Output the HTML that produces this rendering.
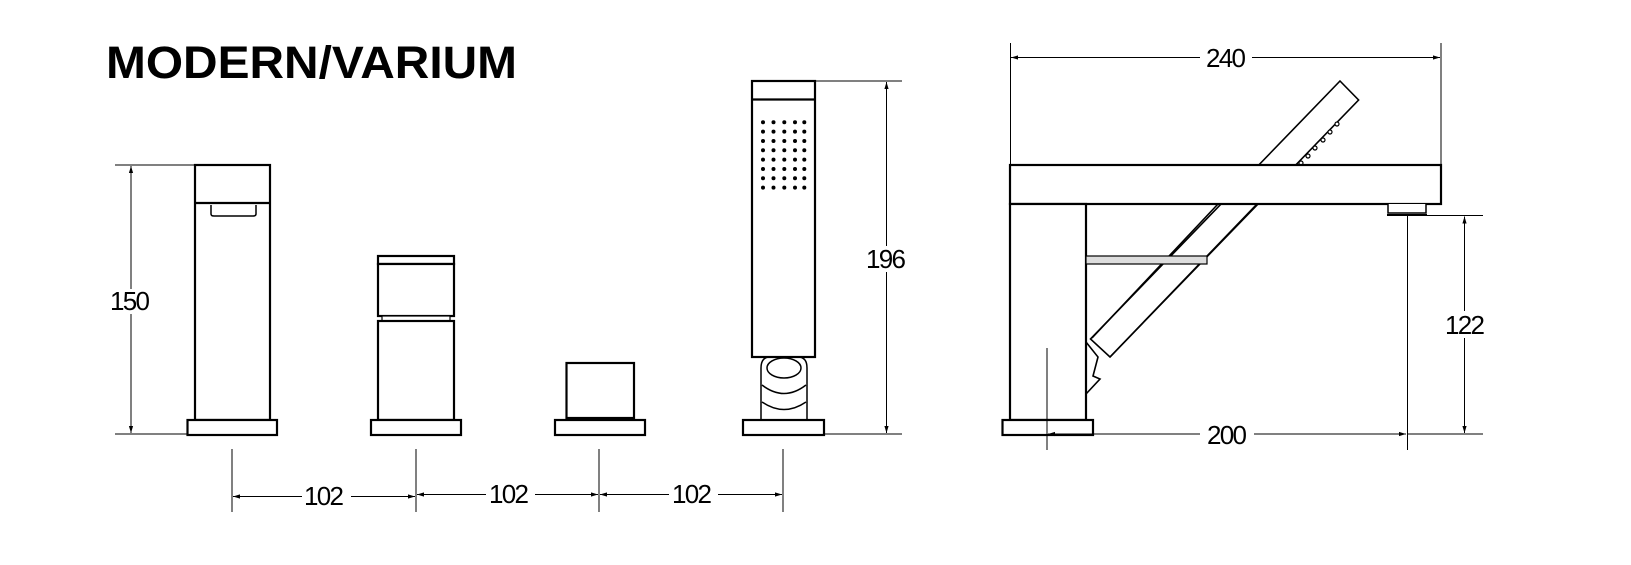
<!DOCTYPE html>
<html><head><meta charset="utf-8"><style>
html,body{margin:0;padding:0;background:#fff;}
svg{display:block;}
text{font-family:"Liberation Sans",Arial,sans-serif;fill:#000;}
</style></head><body>
<svg width="1631" height="565" viewBox="0 0 1631 565" xmlns="http://www.w3.org/2000/svg">
<defs>
<marker id="a" viewBox="0 0 10 10" refX="10" refY="5" markerWidth="7" markerHeight="7" orient="auto-start-reverse"><path d="M0,2 L10,5 L0,8 z" fill="#000"/></marker>
</defs>
<text x="106" y="78" font-size="45" font-weight="bold" textLength="411" lengthAdjust="spacingAndGlyphs">MODERN/VARIUM</text>

<g fill="#fff" stroke="#000" stroke-width="2.2">
<rect x="195" y="165" width="75" height="255"/>
<line x1="195" y1="203" x2="270" y2="203"/>
<path d="M211,205 L211,214 Q211,216 214,216 L253,216 Q256,216 256,214 L256,205" stroke-width="1.5"/>
<rect x="187.5" y="420" width="89.5" height="15"/>
<rect x="378" y="256" width="76" height="8"/>
<rect x="378" y="264" width="76" height="52"/>
<rect x="382" y="316" width="68" height="5" stroke-width="1.2"/>
<rect x="378" y="321" width="76" height="99"/>
<rect x="371" y="420" width="90" height="15"/>
<rect x="566.5" y="363" width="67.5" height="55"/>
<rect x="555" y="420" width="90" height="15"/>
<path d="M761,420 L761,368 Q761,357 770,357 L798,357 Q807,357 807,368 L807,420" stroke-width="1.5"/>
<ellipse cx="784" cy="368" rx="17" ry="10" stroke-width="1.5"/>
<path d="M762,385 Q784,402 806,385 M762,402 Q784,417 806,402" fill="none" stroke-width="1.5"/>
<rect x="752" y="81" width="63" height="276"/>
<line x1="752" y1="99.5" x2="815" y2="99.5"/>
<rect x="743" y="420" width="81" height="15"/>
</g>
<g fill="#000">
<g id="row">
<circle cx="763" cy="122.3" r="2"/><circle cx="773.5" cy="122.3" r="2"/><circle cx="784.3" cy="122.3" r="2"/><circle cx="795" cy="122.3" r="2"/><circle cx="804.3" cy="122.3" r="2"/>
</g>
<use href="#row" y="9.33"/><use href="#row" y="18.67"/><use href="#row" y="28"/><use href="#row" y="37.33"/><use href="#row" y="46.67"/><use href="#row" y="56"/><use href="#row" y="65.33"/>
</g>

<g stroke="#000" stroke-width="1" fill="none">
<line x1="115" y1="165" x2="195" y2="165"/>
<line x1="115" y1="434" x2="187" y2="434"/>
<line x1="131" y1="166" x2="131" y2="289" marker-start="url(#a)"/>
<line x1="131" y1="314" x2="131" y2="433" marker-end="url(#a)"/>
<line x1="232" y1="449" x2="232" y2="512"/>
<line x1="416" y1="449" x2="416" y2="512"/>
<line x1="599" y1="449" x2="599" y2="512"/>
<line x1="783" y1="449" x2="783" y2="512"/>
<line x1="233" y1="496.5" x2="302" y2="496.5" marker-start="url(#a)"/>
<line x1="351" y1="496.5" x2="415" y2="496.5" marker-end="url(#a)"/>
<line x1="417" y1="494.5" x2="486" y2="494.5" marker-start="url(#a)"/>
<line x1="535" y1="494.5" x2="598" y2="494.5" marker-end="url(#a)"/>
<line x1="600" y1="494.5" x2="669" y2="494.5" marker-start="url(#a)"/>
<line x1="718" y1="494.5" x2="782" y2="494.5" marker-end="url(#a)"/>
<line x1="815" y1="81" x2="902" y2="81"/>
<line x1="824" y1="434" x2="902" y2="434"/>
<line x1="886.5" y1="82" x2="886.5" y2="246" marker-start="url(#a)"/>
<line x1="886.5" y1="272" x2="886.5" y2="433" marker-end="url(#a)"/>
</g>
<g font-size="26" text-anchor="middle" lengthAdjust="spacingAndGlyphs">
<text x="130" y="310" textLength="40">150</text>
<text x="324" y="505" textLength="40">102</text>
<text x="509" y="503" textLength="40">102</text>
<text x="692" y="503" textLength="40">102</text>
<text x="886" y="268" textLength="40">196</text>
</g>

<g fill="none" stroke="#000" stroke-width="1.6">
<polygon points="1340,81 1358.6,100 1110,357 1090.5,339" fill="#fff"/>
<path d="M1086,342 L1098,357 L1093,376 L1100,379 L1086,394"/>
</g>
<g fill="#fff" stroke="#000" stroke-width="1.2">
<circle cx="1337" cy="124" r="2"/><circle cx="1330" cy="132" r="2"/><circle cx="1323" cy="140" r="2"/><circle cx="1315" cy="148" r="2"/><circle cx="1308" cy="156" r="2"/><circle cx="1301" cy="163" r="2"/>
</g>
<g fill="#fff" stroke="#000" stroke-width="2.2">
<rect x="1010" y="165" width="431" height="39"/>
<rect x="1010" y="204" width="76" height="216"/>
<rect x="1002.5" y="420" width="90.5" height="15"/>
</g>
<g stroke="#000" stroke-width="1.6" fill="none">
<line x1="1218" y1="204" x2="1092" y2="338"/>
<line x1="1257" y1="204" x2="1110" y2="357"/>
</g>
<rect x="1086" y="256" width="121" height="8" fill="#ddd" stroke="#000" stroke-width="1.2"/>
<path d="M1388,204 L1388,213 L1426,213 L1426,204" fill="#fff" stroke="#000" stroke-width="1.5"/>
<line x1="1387" y1="215" x2="1427" y2="215" stroke="#000" stroke-width="2"/>

<g stroke="#000" stroke-width="1" fill="none">
<line x1="1010.5" y1="43" x2="1010.5" y2="164"/>
<line x1="1441" y1="43" x2="1441" y2="164"/>
<line x1="1011" y1="57.5" x2="1200" y2="57.5" marker-start="url(#a)"/>
<line x1="1252" y1="57.5" x2="1440" y2="57.5" marker-end="url(#a)"/>
<line x1="1427" y1="215.5" x2="1483" y2="215.5"/>
<line x1="1407.5" y1="215.5" x2="1407.5" y2="450"/>
<line x1="1047" y1="348" x2="1047" y2="450"/>
<line x1="1048" y1="434" x2="1200" y2="434" marker-start="url(#a)"/>
<line x1="1254" y1="434" x2="1406" y2="434" marker-end="url(#a)"/>
<line x1="1408" y1="434" x2="1483" y2="434"/>
<line x1="1464.5" y1="216.5" x2="1464.5" y2="311" marker-start="url(#a)"/>
<line x1="1464.5" y1="338" x2="1464.5" y2="433" marker-end="url(#a)"/>
</g>
<g font-size="26" text-anchor="middle" lengthAdjust="spacingAndGlyphs">
<text x="1226" y="67" textLength="40">240</text>
<text x="1227" y="444" textLength="40">200</text>
<text x="1465" y="334" textLength="40">122</text>
</g>
</svg>
</body></html>
